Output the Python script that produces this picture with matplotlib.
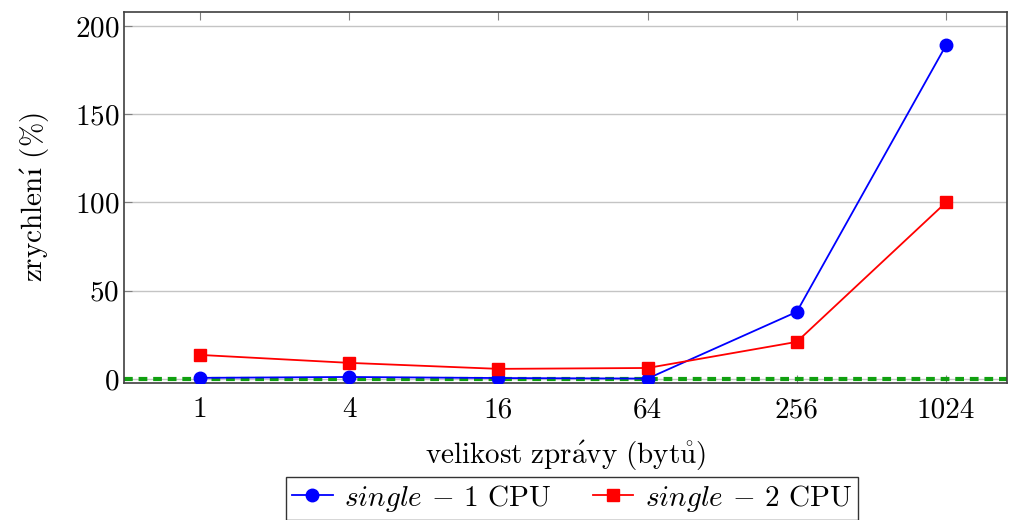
import numpy as np
import matplotlib.pyplot as plt

# Data
sizes = ['1', '4', '16', '64', '256', '1024']
single_1cpu = [0.6, 1.1, 0.5, 0.2, 38, 189]
single_2cpu = [13.6, 9.1, 5.7, 6.2, 21, 100]
baseline = 0

plt.rcParams['font.family'] = ['cmr10', 'DejaVu Serif']
plt.rcParams['mathtext.fontset'] = 'cm'
plt.rcParams['axes.formatter.use_mathtext'] = True

fig = plt.figure(figsize=(10.11, 5.20), dpi=100)
ax = fig.add_axes([0.1227, 0.2635, 0.8734, 0.7135])

x = np.arange(len(sizes))

ax.axhline(baseline, color='#10a010', linestyle=(0, (2.1, 1.4)), linewidth=3.0, zorder=2)
ax.plot(x, single_1cpu, color='blue', marker='o', markersize=9, linewidth=1.3,
        label='$\\mathit{single}$ ${-}$ 1 CPU', zorder=3)
ax.plot(x, single_2cpu, color='red', marker='s', markersize=9, linewidth=1.3,
        label='$\\mathit{single}$ ${-}$ 2 CPU', zorder=3)

ax.set_xlim(-0.51, 5.41)
ax.set_ylim(-2.3, 208)
ax.set_xticks(x)
ax.set_xticklabels(sizes)
ax.set_yticks([0, 50, 100, 150, 200])
ax.grid(True, axis='y', color='#c4c4c4', linewidth=1)
ax.set_axisbelow(True)

ax.tick_params(axis='x', direction='in', top=True, length=6, color='#808080',
               labelsize=21, pad=10)
ax.tick_params(axis='y', direction='in', length=6, color='#808080', labelsize=21)
for s in ax.spines.values():
    s.set_color('#404040')
    s.set_linewidth(1.2)

ax.set_xlabel('$\\mathrm{velikost\\ zpr\\acute{a}vy\\ (byt\\mathring{u})}$', fontsize=21, labelpad=11)
ax.set_ylabel('$\\mathrm{zrychlen}\\acute{\\mathrm{\u0131}}$ (%)', fontsize=21, labelpad=16)

fig.legend(loc='upper center', bbox_to_anchor=(0.566, 0.083), ncol=2,
           fontsize=21, frameon=True, fancybox=False, edgecolor='black',
           borderaxespad=0, handlelength=1.4, columnspacing=1.4,
           borderpad=0.2, handletextpad=0.4)

fig.savefig('out.png', dpi=100)
